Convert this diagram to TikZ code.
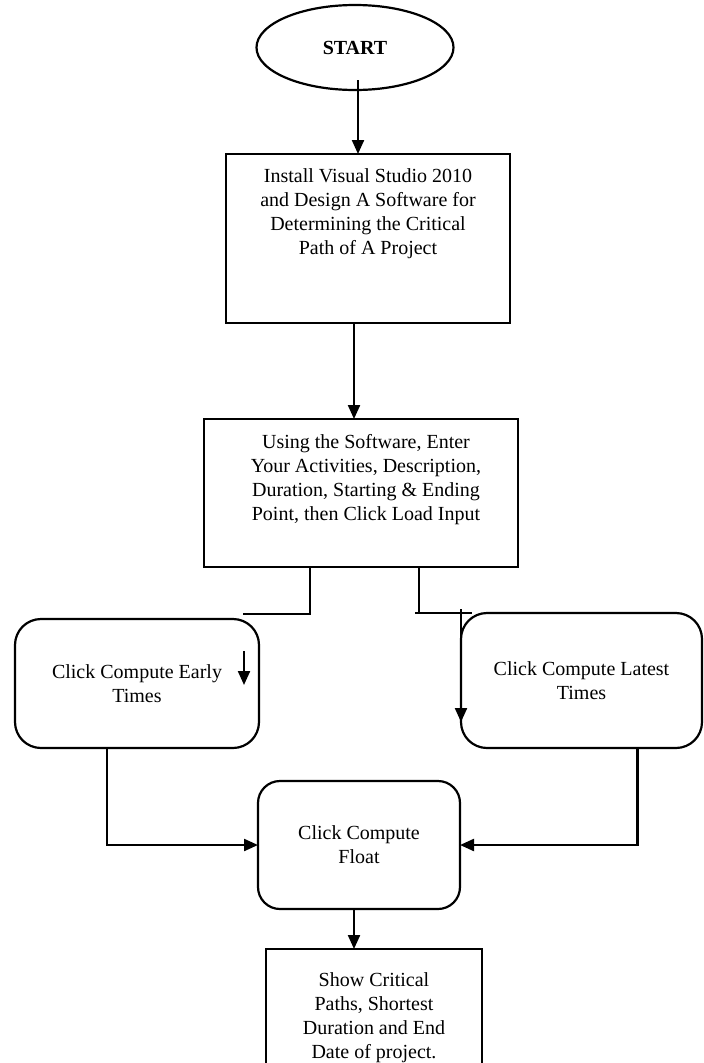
\documentclass[tikz,border=0pt]{standalone}
\usepackage{fontspec}
\setmainfont{Liberation Serif}
\usetikzlibrary{arrows.meta,shapes.geometric,positioning}

\tikzset{
  every node/.style={font=\fontsize{20}{24}\selectfont, inner sep=0pt, outer sep=0pt, align=center},
  terminal/.style={ellipse, draw, line width=2.2pt, minimum width=197pt, minimum height=85pt},
  process/.style={rectangle, draw, line width=2.2pt},
  action/.style={rectangle, rounded corners=26pt, draw, line width=2.2pt},
}

\begin{document}
\begin{tikzpicture}[x=1pt,y=-1pt,>={Triangle[length=14pt,width=12pt]},line width=2.2pt]
  \useasboundingbox (0,0) rectangle (704,1063);

  \node[terminal] (start) at (355,47.5) {\textbf{START}};
  \node[process, minimum width=284pt, minimum height=169pt] (install) [below=64pt of start, xshift=13pt] {};
  \node (installtxt) [below=15pt of install.north] {Install Visual Studio 2010\\and Design A Software for\\Determining the Critical\\Path of A Project};
  \node[process, minimum width=314pt, minimum height=148pt] (use) [below=96pt of install, xshift=-7pt] {};
  \node (usetxt) [below=15pt of use.north, xshift=5pt] {Using the Software, Enter\\Your Activities, Description,\\Duration, Starting \& Ending\\Point, then Click Load Input};
  \node[action, minimum width=244pt, minimum height=129pt] (early) [below=52pt of use, xshift=-224pt] {Click Compute Early\\Times};
  \node[action, minimum width=241pt, minimum height=135pt] (latest) [below=46pt of use, xshift=220.5pt] {Click Compute Latest\\Times};
  \node[action, rounded corners=22pt, minimum width=202pt, minimum height=128pt] (float) [below=33pt of early, xshift=222pt] {Click Compute\\Float};
  \node[process, minimum width=216pt, minimum height=138pt] (final) [below=40pt of float, xshift=15pt] {Show Critical\\Paths, Shortest\\Duration and End\\Date of project.};

  % loose ends of the branch lines
  \coordinate (sdrop) at ([xshift=3pt,yshift=10pt]start.south);
  \coordinate (idrop) at ([xshift=-14pt]install.south);
  \coordinate (fdrop) at ([xshift=-5pt]float.south);
  \coordinate (ljoin) at (310,614);
  \coordinate (lend) at (243,614);
  \coordinate (rjoin) at (419,613);
  \coordinate (rstart) at (415,613);
  \coordinate (rend) at (472,613);
  \coordinate (dtop) at (461,609);
  \coordinate (etop) at (244,651);
  \coordinate (ebot) at (244,685);

  \draw[->] (sdrop) -- ([xshift=-10pt]install.north);
  \draw[->] (idrop) -- (idrop |- use.north);
  \draw (use.south -| ljoin) -- (ljoin) -- (lend);
  \draw (use.south -| rjoin) -- (rjoin);
  \draw (rstart) -- (rend);
  \draw[->] (dtop) -- ([yshift=-41.5pt]latest.west);
  \draw[->] (etop) -- (ebot);
  \draw[->] ([xshift=-30pt]early.south) |- (float.west);
  \draw[->] ([xshift=56pt]latest.south) |- (float.east);
  \draw[->] (fdrop) -- (fdrop |- final.north);
\end{tikzpicture}
\end{document}
